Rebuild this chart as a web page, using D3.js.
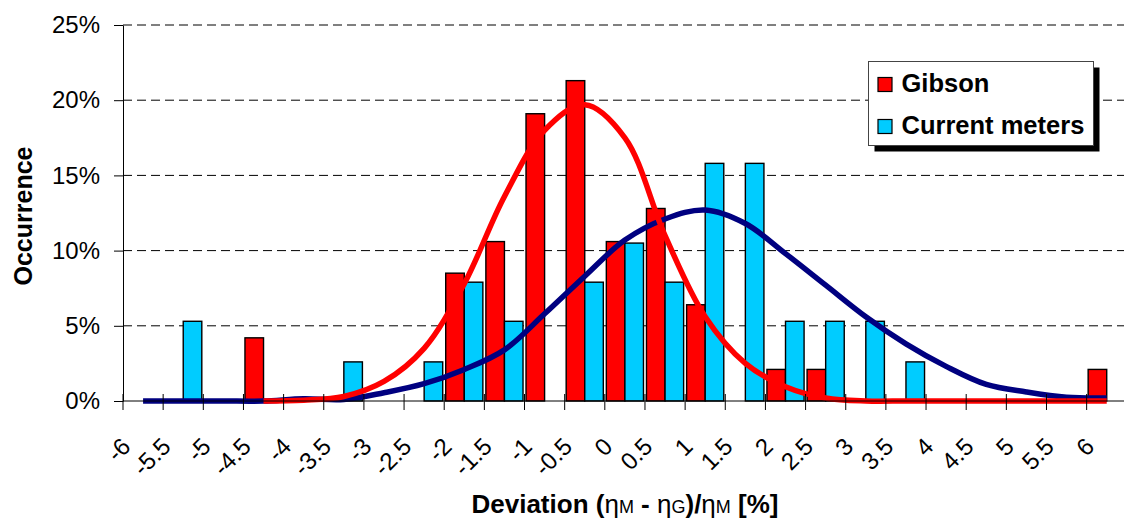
<!DOCTYPE html>
<html>
<head>
<meta charset="utf-8">
<script src="https://cdn.jsdelivr.net/npm/d3@7"></script>
<style>
  body { margin: 0; background: #fff; }
  text { font-family: "Liberation Sans", Arial, sans-serif; fill: #000; }
</style>
</head>
<body>
<svg id="chart"></svg>
<script>
// bin labels of the deviation histogram [%]
var labels = ["-6","-5.5","-5","-4.5","-4","-3.5","-3","-2.5","-2","-1.5","-1","-0.5",
              "0","0.5","1","1.5","2","2.5","3","3.5","4","4.5","5","5.5","6"];

// occurrence in % (bars)
var gibson        = [0, 0, 0, 4.2, 0, 0, 0, 0, 8.5, 10.6, 19.1, 21.3, 10.6, 12.8, 6.4, 0, 2.1, 2.1, 0, 0, 0, 0, 0, 0, 2.1];
var currentMeters = [0, 5.3, 0, 0, 0, 2.6, 0, 2.6, 7.9, 5.3, 0, 7.9, 10.5, 7.9, 15.8, 15.8, 5.3, 5.3, 5.3, 2.6, 0, 0, 0, 0, 0];

// fitted distributions (lines)
var gibsonFit = [null, null, null, 0, 0.05, 0.3, 1.3, 3.5, 7.8, 13.6, 18.0, 19.7, 17.5, 11.0, 5.6, 2.5, 0.95, 0.2, 0, 0, 0, 0, 0, 0, 0];
var meterFit  = [0, 0, 0, 0, 0.15, 0.1, 0.55, 1.15, 2.1, 3.4, 5.8, 8.3, 10.7, 12.1, 12.7, 11.8, 9.8, 7.7, 5.6, 3.8, 2.3, 1.1, 0.6, 0.25, 0.2];

var yTicks = [0, 5, 10, 15, 20, 25];

var W = 1124, H = 519;
var plotLeft = 123, plotRight = 1126.8, plotTop = 25, plotBottom = 401;

var svg = d3.select("#chart").attr("width", W).attr("height", H);
svg.append("rect").attr("width", W).attr("height", H).attr("fill", "#fff");

// scales
var x = d3.scaleBand().domain(labels).range([plotLeft, plotRight]).padding(0);
var bw = x.bandwidth();
var xTick = x.copy().range([plotLeft - bw / 2, plotRight - bw / 2]); // ticks sit on band edges
var xs = d3.scaleBand().domain(["g", "c"]).range([1.5, bw - 1.5]).padding(0);
var y = d3.scaleLinear().domain([0, 25]).range([plotBottom, plotTop]);

// dashed grid
svg.append("g").selectAll("line")
  .data(yTicks.filter(function(d) { return d > 0; }))
  .enter().append("line")
  .attr("x1", plotLeft).attr("x2", W)
  .attr("y1", function(d) { return y(d); })
  .attr("y2", function(d) { return y(d); })
  .attr("stroke", "#000").attr("stroke-width", 1)
  .attr("stroke-dasharray", "9,5");

// bars
function drawBars(values, key, color) {
  var data = values.map(function(v, i) { return {cat: labels[i], v: v}; })
                   .filter(function(d) { return d.v > 0; });
  svg.append("g").selectAll("rect")
    .data(data)
    .enter().append("rect")
    .attr("x", function(d) { return x(d.cat) + xs(key); })
    .attr("width", xs.bandwidth())
    .attr("y", function(d) { return y(d.v); })
    .attr("height", function(d) { return plotBottom - y(d.v); })
    .attr("fill", color)
    .attr("stroke", "#000").attr("stroke-width", 1.4);
}
drawBars(gibson, "g", "#ff0000");
drawBars(currentMeters, "c", "#00ccff");

// fitted curves
function drawFit(values, color) {
  var line = d3.line()
    .defined(function(d) { return d != null; })
    .curve(d3.curveCatmullRom)
    .x(function(d, i) { return x(labels[i]) + bw / 2; })
    .y(function(d) { return y(d); });
  svg.append("path")
    .datum(values)
    .attr("d", line)
    .attr("fill", "none")
    .attr("stroke", color)
    .attr("stroke-width", 5.5)
    .attr("stroke-linejoin", "round");
}
drawFit(meterFit, "#000080");
drawFit(gibsonFit, "#ff0000");

// y axis
var yAxis = svg.append("g")
  .attr("transform", "translate(" + plotLeft + ",0)")
  .call(d3.axisLeft(y).tickValues(yTicks).tickSizeInner(9).tickSizeOuter(0).tickPadding(14)
        .tickFormat(function(d) { return d + "%"; }));
yAxis.select(".domain").attr("stroke", "#000");
yAxis.selectAll("text").style("font-size", "24px");

// x axis
svg.append("line")
  .attr("x1", plotLeft).attr("x2", W)
  .attr("y1", plotBottom).attr("y2", plotBottom)
  .attr("stroke", "#000").attr("stroke-width", 1);

var xAxis = svg.append("g")
  .attr("transform", "translate(0," + plotBottom + ")")
  .call(d3.axisBottom(xTick).tickSizeInner(9).tickSizeOuter(0));
xAxis.select(".domain").remove();
xAxis.selectAll(".tick line").attr("y1", -7).attr("stroke", "#000");
xAxis.selectAll(".tick text")
  .attr("x", 0).attr("y", 0).attr("dy", 0)
  .attr("text-anchor", "end")
  .attr("transform", "translate(9,47) rotate(-45)")
  .style("font-size", "24px");

// axis titles
svg.append("text")
  .attr("transform", "translate(32,216) rotate(-90)")
  .attr("text-anchor", "middle")
  .style("font-size", "25px").style("font-weight", "bold")
  .text("Occurrence");

var xt = svg.append("text")
  .attr("x", 625).attr("y", 513)
  .attr("text-anchor", "middle")
  .style("font-size", "26px").style("font-weight", "bold");
var parts = [["Deviation (", 26, "bold"], ["\u03b7", 26, "normal"], ["M", 18, "normal"],
             [" - ", 26, "bold"], ["\u03b7", 26, "normal"], ["G", 18, "normal"],
             [")/", 26, "bold"], ["\u03b7", 26, "normal"], ["M", 18, "normal"], [" [%]", 26, "bold"]];
parts.forEach(function(p) {
  xt.append("tspan").style("font-size", p[1] + "px").style("font-weight", p[2]).text(p[0]);
});

// legend
var lg = svg.append("g").attr("transform", "translate(868.5,61.5)");
lg.append("rect").attr("x", 6).attr("y", 6).attr("width", 225).attr("height", 84).attr("fill", "#000");
lg.append("rect").attr("width", 225).attr("height", 84).attr("fill", "#fff")
  .attr("stroke", "#444").attr("stroke-width", 1);
var items = [["Gibson", "#ff0000"], ["Current meters", "#00ccff"]];
items.forEach(function(it, i) {
  lg.append("rect")
    .attr("x", 9.5).attr("y", 16 + i * 42).attr("width", 14).attr("height", 14)
    .attr("fill", it[1]).attr("stroke", "#000").attr("stroke-width", 1.2);
  lg.append("text")
    .attr("x", 33).attr("y", 30.5 + i * 41.5)
    .style("font-size", "25.5px").style("font-weight", "bold")
    .text(it[0]);
});
</script>
</body>
</html>
